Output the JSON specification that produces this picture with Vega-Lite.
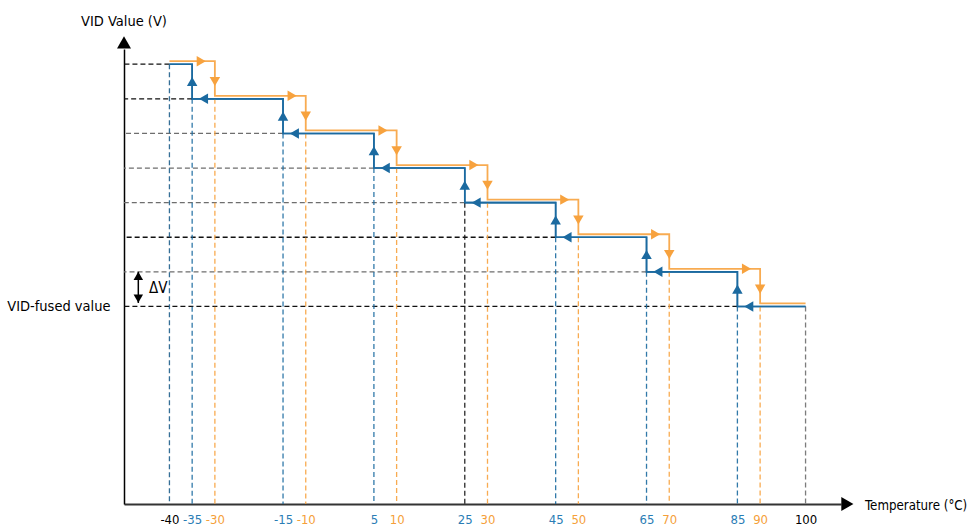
{
  "$schema": "https://vega.github.io/schema/vega-lite/v6.json",
  "width": 717,
  "height": 455,
  "autosize": {"type": "none"},
  "padding": {"left": 124, "top": 49, "right": 135, "bottom": 27},
  "background": "white",
  "config": {
    "view": {"stroke": null},
    "font": "DejaVu Sans Condensed, DejaVu Sans, sans-serif"
  },
  "datasets": {
    "hdash": [
      {"v": 7, "t": -40, "tone": "ref"},
      {"v": 6, "t": -35, "tone": "ref"},
      {"v": 5, "t": -15, "tone": "ref2"},
      {"v": 4, "t": 5, "tone": "ref2"},
      {"v": 3, "t": 25, "tone": "ref2"},
      {"v": 2, "t": 45, "tone": "ref"},
      {"v": 1, "t": 65, "tone": "ref2"},
      {"v": 0, "t": 85, "tone": "ref"}
    ],
    "vdash": [
      {"t": -40, "v": 7, "tone": "ref3"},
      {"t": -35, "v": 6, "tone": "falling"},
      {"t": -30, "v": 6, "tone": "rising"},
      {"t": -15, "v": 5, "tone": "falling"},
      {"t": -10, "v": 5, "tone": "rising"},
      {"t": 5, "v": 4, "tone": "falling"},
      {"t": 10, "v": 4, "tone": "rising"},
      {"t": 25, "v": 3, "tone": "ref"},
      {"t": 30, "v": 3, "tone": "rising"},
      {"t": 45, "v": 2, "tone": "falling"},
      {"t": 50, "v": 2, "tone": "rising"},
      {"t": 65, "v": 1, "tone": "falling"},
      {"t": 70, "v": 1, "tone": "rising"},
      {"t": 85, "v": 0, "tone": "falling"},
      {"t": 90, "v": 0, "tone": "rising"},
      {"t": 100, "v": 0, "tone": "ref2"}
    ],
    "paths": [
      {"series": "falling", "t": -40, "v": 7},
      {"series": "falling", "t": -35, "v": 6},
      {"series": "falling", "t": -15, "v": 5},
      {"series": "falling", "t": 5, "v": 4},
      {"series": "falling", "t": 25, "v": 3},
      {"series": "falling", "t": 45, "v": 2},
      {"series": "falling", "t": 65, "v": 1},
      {"series": "falling", "t": 85, "v": 0},
      {"series": "falling", "t": 100, "v": 0},
      {"series": "rising", "t": -40, "v": 7},
      {"series": "rising", "t": -30, "v": 6},
      {"series": "rising", "t": -10, "v": 5},
      {"series": "rising", "t": 10, "v": 4},
      {"series": "rising", "t": 30, "v": 3},
      {"series": "rising", "t": 50, "v": 2},
      {"series": "rising", "t": 70, "v": 1},
      {"series": "rising", "t": 90, "v": 0},
      {"series": "rising", "t": 100, "v": 0}
    ],
    "arrows": [
      {"series": "falling", "dir": "up", "t": -35, "v": 6.5},
      {"series": "falling", "dir": "up", "t": -15, "v": 5.5},
      {"series": "falling", "dir": "up", "t": 5, "v": 4.5},
      {"series": "falling", "dir": "up", "t": 25, "v": 3.5},
      {"series": "falling", "dir": "up", "t": 45, "v": 2.5},
      {"series": "falling", "dir": "up", "t": 65, "v": 1.5},
      {"series": "falling", "dir": "up", "t": 85, "v": 0.5},
      {"series": "falling", "dir": "left", "t": -32.5, "v": 6},
      {"series": "falling", "dir": "left", "t": -12.5, "v": 5},
      {"series": "falling", "dir": "left", "t": 7.5, "v": 4},
      {"series": "falling", "dir": "left", "t": 27.5, "v": 3},
      {"series": "falling", "dir": "left", "t": 47.5, "v": 2},
      {"series": "falling", "dir": "left", "t": 67.5, "v": 1},
      {"series": "falling", "dir": "left", "t": 87.5, "v": 0},
      {"series": "rising", "dir": "down", "t": -30, "v": 6.5},
      {"series": "rising", "dir": "down", "t": -10, "v": 5.5},
      {"series": "rising", "dir": "down", "t": 10, "v": 4.5},
      {"series": "rising", "dir": "down", "t": 30, "v": 3.5},
      {"series": "rising", "dir": "down", "t": 50, "v": 2.5},
      {"series": "rising", "dir": "down", "t": 70, "v": 1.5},
      {"series": "rising", "dir": "down", "t": 90, "v": 0.5},
      {"series": "rising", "dir": "right", "t": -33, "v": 7},
      {"series": "rising", "dir": "right", "t": -13, "v": 6},
      {"series": "rising", "dir": "right", "t": 7, "v": 5},
      {"series": "rising", "dir": "right", "t": 27, "v": 4},
      {"series": "rising", "dir": "right", "t": 47, "v": 3},
      {"series": "rising", "dir": "right", "t": 67, "v": 2},
      {"series": "rising", "dir": "right", "t": 87, "v": 1}
    ],
    "axisArrows": [
      {"t": -50, "v": 7.63, "dir": "up"},
      {"t": 109.2, "v": -5.71, "dir": "right"}
    ],
    "delta": [
      {"t": -46.85, "v": 0.1, "v2": 1.0}
    ],
    "deltaHeads": [
      {"t": -46.85, "v": 0.88, "dir": "up"},
      {"t": -46.85, "v": 0.225, "dir": "down"}
    ]
  },
  "layer": [
    {
      "data": {"name": "paths"},
      "transform": [{"filter": "datum.series == 'falling'"}],
      "mark": {"type": "line", "interpolate": "step-after", "strokeWidth": 1.6},
      "encoding": {
        "x": {"field": "t", "type": "quantitative",
          "scale": {"domain": [-50, 107.8], "nice": false, "zero": false},
          "axis": {
            "title": null,
            "values": [-40, -35, -30, -15, -10, 5, 10, 25, 30, 45, 50, 65, 70, 85, 90, 100],
            "labelExpr": "'' + datum.value",
            "ticks": false, "grid": false,
            "domainColor": "#333333", "domainWidth": 2,
            "labelFlush": false, "labelOverlap": false, "labelBound": false,
            "labelFontSize": 13, "labelPadding": 9,
            "labelFont": "DejaVu Sans Condensed, DejaVu Sans, sans-serif",
            "labelColor": {
              "condition": [
                {"test": "indexof([-35,-15,5,25,45,65,85], datum.value) >= 0", "value": "#2a7db5"},
                {"test": "indexof([-30,-10,10,30,50,70,90], datum.value) >= 0", "value": "#f59f3a"}
              ],
              "value": "#000000"
            }
          }
        },
        "y": {"field": "v", "type": "quantitative",
          "scale": {"domain": [-5.71, 7.44], "nice": false, "zero": false},
          "axis": {
            "title": null,
            "values": [0],
            "labelExpr": "'VID-fused value'",
            "ticks": false, "grid": false,
            "domainColor": "#000000", "domainWidth": 1.5,
            "labelFontSize": 14.5, "labelPadding": 14, "labelColor": "#000000",
            "labelFont": "DejaVu Sans Condensed, DejaVu Sans, sans-serif"
          }
        },
        "color": {"field": "series", "type": "nominal", "legend": null,
          "scale": {"domain": ["falling", "rising", "ref", "ref2", "ref3"], "range": ["#1b6aa0", "#f7a23e", "#111111", "#6e6e6e", "#1f5f8c"]}}
      }
    },
    {
      "data": {"name": "hdash"},
      "mark": {"type": "rule", "strokeDash": [5, 3], "strokeWidth": 1.3},
      "encoding": {
        "x": {"field": "t", "type": "quantitative"},
        "x2": {"datum": -50},
        "y": {"field": "v", "type": "quantitative"},
        "color": {"field": "tone", "type": "nominal", "legend": null}
      }
    },
    {
      "data": {"name": "vdash"},
      "mark": {"type": "rule", "strokeDash": [5, 3], "strokeWidth": 1.3, "opacity": 0.9},
      "encoding": {
        "x": {"field": "t", "type": "quantitative"},
        "y": {"field": "v", "type": "quantitative"},
        "y2": {"datum": -5.71},
        "color": {"field": "tone", "type": "nominal", "legend": null}
      }
    },
    {
      "data": {"name": "paths"},
      "transform": [{"filter": "datum.series == 'rising'"}],
      "mark": {"type": "line", "interpolate": "step-after", "strokeWidth": 1.8, "yOffset": -3, "opacity": 0.9},
      "encoding": {
        "x": {"field": "t", "type": "quantitative"},
        "y": {"field": "v", "type": "quantitative"},
        "color": {"field": "series", "type": "nominal", "legend": null}
      }
    },
    {
      "data": {"name": "paths"},
      "transform": [{"filter": "datum.series == 'falling'"}],
      "mark": {"type": "line", "interpolate": "step-after", "strokeWidth": 1.6},
      "encoding": {
        "x": {"field": "t", "type": "quantitative"},
        "y": {"field": "v", "type": "quantitative"},
        "color": {"field": "series", "type": "nominal", "legend": null}
      }
    },
    {
      "data": {"name": "arrows"},
      "transform": [{"filter": "datum.dir != 'right'"}],
      "mark": {"type": "point", "filled": true, "size": 110, "opacity": 1, "strokeWidth": 0},
      "encoding": {
        "x": {"field": "t", "type": "quantitative"},
        "y": {"field": "v", "type": "quantitative"},
        "shape": {"field": "dir", "type": "nominal", "legend": null,
          "scale": {"domain": ["up", "down", "left", "right"], "range": ["triangle-up", "triangle-down", "triangle-left", "triangle-right"]}},
        "color": {"field": "series", "type": "nominal", "legend": null}
      }
    },
    {
      "data": {"name": "arrows"},
      "transform": [{"filter": "datum.dir == 'right'"}],
      "mark": {"type": "point", "filled": true, "size": 110, "opacity": 1, "strokeWidth": 0, "yOffset": -3},
      "encoding": {
        "x": {"field": "t", "type": "quantitative"},
        "y": {"field": "v", "type": "quantitative"},
        "shape": {"field": "dir", "type": "nominal", "legend": null},
        "color": {"field": "series", "type": "nominal", "legend": null}
      }
    },
    {
      "data": {"name": "axisArrows"},
      "mark": {"type": "point", "filled": true, "size": 196, "opacity": 1, "strokeWidth": 0, "color": "#000000"},
      "encoding": {
        "x": {"field": "t", "type": "quantitative"},
        "y": {"field": "v", "type": "quantitative"},
        "shape": {"field": "dir", "type": "nominal", "legend": null}
      }
    },
    {
      "data": {"name": "delta"},
      "mark": {"type": "rule", "strokeWidth": 1.5, "color": "#000000"},
      "encoding": {
        "x": {"field": "t", "type": "quantitative"},
        "y": {"field": "v", "type": "quantitative"},
        "y2": {"field": "v2"}
      }
    },
    {
      "data": {"name": "deltaHeads"},
      "mark": {"type": "point", "filled": true, "size": 90, "opacity": 1, "strokeWidth": 0, "color": "#000000"},
      "encoding": {
        "x": {"field": "t", "type": "quantitative"},
        "y": {"field": "v", "type": "quantitative"},
        "shape": {"field": "dir", "type": "nominal", "legend": null}
      }
    },
    {
      "data": {"values": [{"t": -50, "v": 8.1, "label": "VID Value (V)"}]},
      "mark": {"type": "text", "align": "center", "baseline": "alphabetic", "fontSize": 14.5, "color": "#000000"},
      "encoding": {
        "x": {"field": "t", "type": "quantitative"},
        "y": {"field": "v", "type": "quantitative"},
        "text": {"field": "label", "type": "nominal"}
      }
    },
    {
      "data": {"values": [{"t": 113.1, "v": -5.77, "label": "Temperature (°C)"}]},
      "mark": {"type": "text", "align": "left", "baseline": "middle", "fontSize": 13.2, "color": "#000000"},
      "encoding": {
        "x": {"field": "t", "type": "quantitative"},
        "y": {"field": "v", "type": "quantitative"},
        "text": {"field": "label", "type": "nominal"}
      }
    },
    {
      "data": {"values": [{"t": -44.5, "v": 0.53, "label": "ΔV"}]},
      "mark": {"type": "text", "align": "left", "baseline": "middle", "fontSize": 15, "color": "#000000"},
      "encoding": {
        "x": {"field": "t", "type": "quantitative"},
        "y": {"field": "v", "type": "quantitative"},
        "text": {"field": "label", "type": "nominal"}
      }
    }
  ]
}
